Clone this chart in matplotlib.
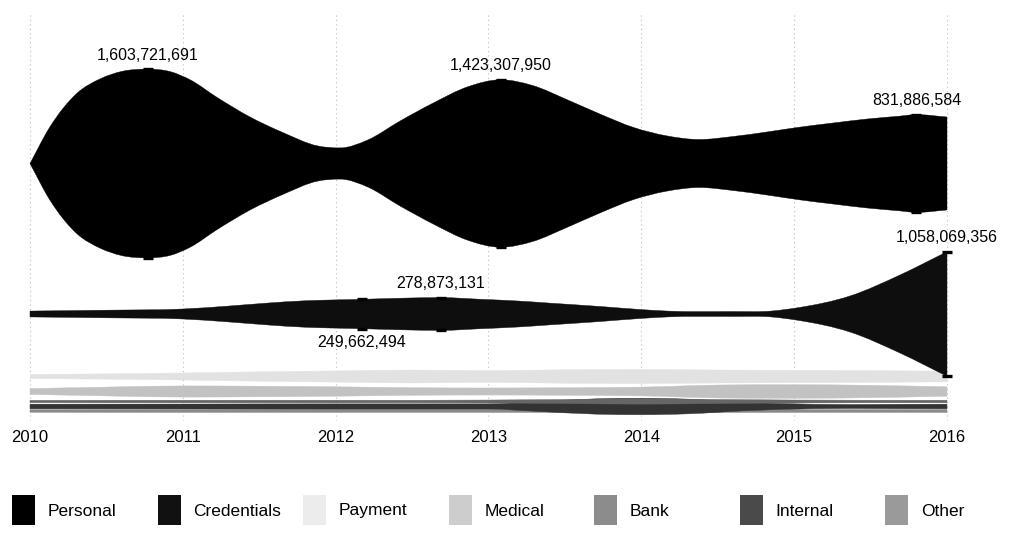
import numpy as np
import matplotlib
matplotlib.use("Agg")
import matplotlib.pyplot as plt
from matplotlib.path import Path
from matplotlib.patches import PathPatch, Rectangle

plt.rcParams['font.family'] = ['Liberation Sans', 'DejaVu Sans']

# ---- data (records) ----
categories = ['Personal', 'Credentials', 'Payment', 'Medical', 'Bank', 'Internal', 'Other']
colors = ['#000000', '#0e0e0e', '#e2e2e2', '#c2c2c2', '#666666', '#333333', '#8a8a8a']
legend_colors = ['#000000', '#111111', '#ececec', '#cdcdcd', '#8c8c8c', '#4a4a4a', '#9a9a9a']

personal_x = [2010.0, 2010.13, 2010.31, 2010.46, 2010.6, 2010.77, 2010.92, 2011.05, 2011.22,
              2011.44, 2011.66, 2011.88, 2012.03, 2012.21, 2012.42, 2012.64, 2012.86, 2013.08,
              2013.29, 2013.51, 2013.73, 2013.95, 2014.17, 2014.38, 2014.6, 2014.82, 2015.02,
              2015.26, 2015.48, 2015.69, 2015.8, 2016.0]
personal_m = [0, 620, 1200, 1440, 1565, 1603.721691, 1560, 1420, 1130,
              790, 520, 300, 265, 400, 720, 1030, 1300, 1423.30795,
              1325, 1090, 840, 612, 468, 408, 459, 535, 612,
              690, 757, 805, 831.886584, 790]

cred_x = [2010.0, 2010.5, 2011.0, 2011.3, 2011.55, 2011.8, 2012.0, 2012.17, 2012.45, 2012.69,
          2012.95, 2013.2, 2013.4, 2013.73, 2014.0, 2014.17, 2014.6, 2014.85, 2015.02,
          2015.37, 2015.69, 2016.0]
cred_m = [50, 65, 85, 135, 185, 225, 240, 249.662494, 270, 278.873131,
          250, 220, 185, 128, 75, 50, 42, 50, 105,
          310, 660, 1058.069356]

payment_x = [2010.0, 2010.5, 2011.0, 2011.5, 2012.0, 2012.5, 2013.0, 2013.5, 2014.0, 2014.5, 2015.0, 2015.5, 2016.0]
payment_m = [35, 45, 60, 80, 95, 110, 100, 115, 120, 110, 105, 100, 90]

medical_x = [2010.0, 2010.5, 2011.0, 2011.5, 2012.0, 2012.5, 2013.0, 2013.5, 2014.0, 2014.5, 2015.0, 2015.5, 2016.0]
medical_m = [50, 75, 95, 90, 80, 65, 60, 65, 75, 110, 115, 105, 80]

bank_x = [2010.0, 2011.0, 2012.0, 2013.0, 2013.5, 2014.0, 2014.5, 2015.0, 2016.0]
bank_m = [20, 22, 22, 25, 35, 45, 35, 25, 22]

internal_x = [2010.0, 2011.0, 2012.0, 2013.0, 2013.3, 2013.7, 2014.0, 2014.3, 2014.7, 2015.0, 2016.0]
internal_m = [40, 42, 45, 45, 80, 130, 140, 125, 70, 45, 40]

other_x = [2010.0, 2011.0, 2012.0, 2013.0, 2014.0, 2015.0, 2016.0]
other_m = [22, 25, 25, 25, 28, 25, 25]

series_x = [personal_x, cred_x, payment_x, medical_x, bank_x, internal_x, other_x]
series_m = [personal_m, cred_m, payment_m, medical_m, bank_m, internal_m, other_m]

# annotated points: (series index, year, value in millions, label above?)
marks = [(0, 2010.77, 1603.721691, True), (0, 2013.08, 1423.30795, True),
         (0, 2015.8, 831.886584, True), (1, 2012.17, 249.662494, False),
         (1, 2012.69, 278.873131, True), (1, 2016.0, 1058.069356, True)]

years = [2010, 2011, 2012, 2013, 2014, 2015, 2016]

# ---- layout ----
W, H = 1013, 539
XPX = 152.83            # pixels per year
PX = 8.5e6              # records per vertical pixel
centers_px = [163.5, 314, 376.5, 391.5, 401.5, 406.5, 411]

fig = plt.figure(figsize=(W / 100, H / 100), dpi=100)
fig.patch.set_facecolor('white')
ax = fig.add_axes([0, 0, 1, 1])
x0 = 2010 - 30 / XPX
ax.set_xlim(x0, x0 + W / XPX)
ax.set_ylim(H * PX, 0)
ax.axis('off')

# dotted year gridlines
for yr in years:
    ax.vlines(yr, 15 * PX, 420 * PX, color='#bdbdbd', lw=0.8, linestyles=(0, (1, 3)), zorder=0)


def slopes(x, y):
    # smooth tangents, flat at local extremes
    x = np.asarray(x, float); y = np.asarray(y, float)
    h = np.diff(x); s = np.diff(y) / h
    m = np.zeros_like(y)
    m[0], m[-1] = s[0], s[-1]
    for i in range(1, len(y) - 1):
        if s[i - 1] * s[i] <= 0:
            continue
        m[i] = (s[i - 1] * h[i] + s[i] * h[i - 1]) / (h[i - 1] + h[i])
    return m


def band(x, vals, center, color):
    x = np.asarray(x, float)
    v = np.asarray(vals, float) * 1e6
    mv = slopes(x, v)
    top, bot = center - v / 2, center + v / 2
    mt, mb = -mv / 2, mv / 2
    verts = [(x[0], top[0])]
    codes = [Path.MOVETO]
    for i in range(len(x) - 1):
        dx = x[i + 1] - x[i]
        verts += [(x[i] + dx / 3, top[i] + mt[i] * dx / 3),
                  (x[i + 1] - dx / 3, top[i + 1] - mt[i + 1] * dx / 3),
                  (x[i + 1], top[i + 1])]
        codes += [Path.CURVE4] * 3
    verts.append((x[-1], bot[-1])); codes.append(Path.LINETO)
    for i in range(len(x) - 2, -1, -1):
        dx = x[i + 1] - x[i]
        verts += [(x[i + 1] - dx / 3, bot[i + 1] - mb[i + 1] * dx / 3),
                  (x[i] + dx / 3, bot[i] + mb[i] * dx / 3),
                  (x[i], bot[i])]
        codes += [Path.CURVE4] * 3
    verts.append((x[0], top[0])); codes.append(Path.CLOSEPOLY)
    ax.add_patch(PathPatch(Path(verts, codes), facecolor=color, edgecolor=color, lw=0.3, zorder=2))


# draw bottom bands first so the big ones sit on top
for k in range(len(categories) - 1, -1, -1):
    band(series_x[k], series_m[k], centers_px[k] * PX, colors[k])

# markers (caps only) + value labels
for k, yr, val, above in marks:
    c = centers_px[k] * PX
    v = val * 1e6
    ax.errorbar([yr], [c], yerr=[v / 2], fmt='none', ecolor='black', elinewidth=0,
                capsize=3.6, capthick=2.4, zorder=3)
    edge = c - v / 2 if above else c + v / 2
    ax.annotate(f"{int(round(v)):,}", (yr, edge), xytext=(0, 14 if above else -14),
                textcoords='offset pixels', ha='center', va='center', fontsize=11.5, zorder=4)

# year labels
for yr in years:
    ax.text(yr, 437 * PX, str(yr), ha='center', va='center', fontsize=12)

# legend
for i, (name, col) in enumerate(zip(categories, legend_colors)):
    lx = 12 + i * 145.5
    fig.add_artist(Rectangle((lx / W, 1 - 525 / H), 23 / W, 30 / H, transform=fig.transFigure,
                             facecolor=col, edgecolor='none'))
    fig.text((lx + 36) / W, 1 - 511 / H, name, ha='left', va='center', fontsize=12.5)

fig.savefig('out.png', dpi=100, facecolor='white')
